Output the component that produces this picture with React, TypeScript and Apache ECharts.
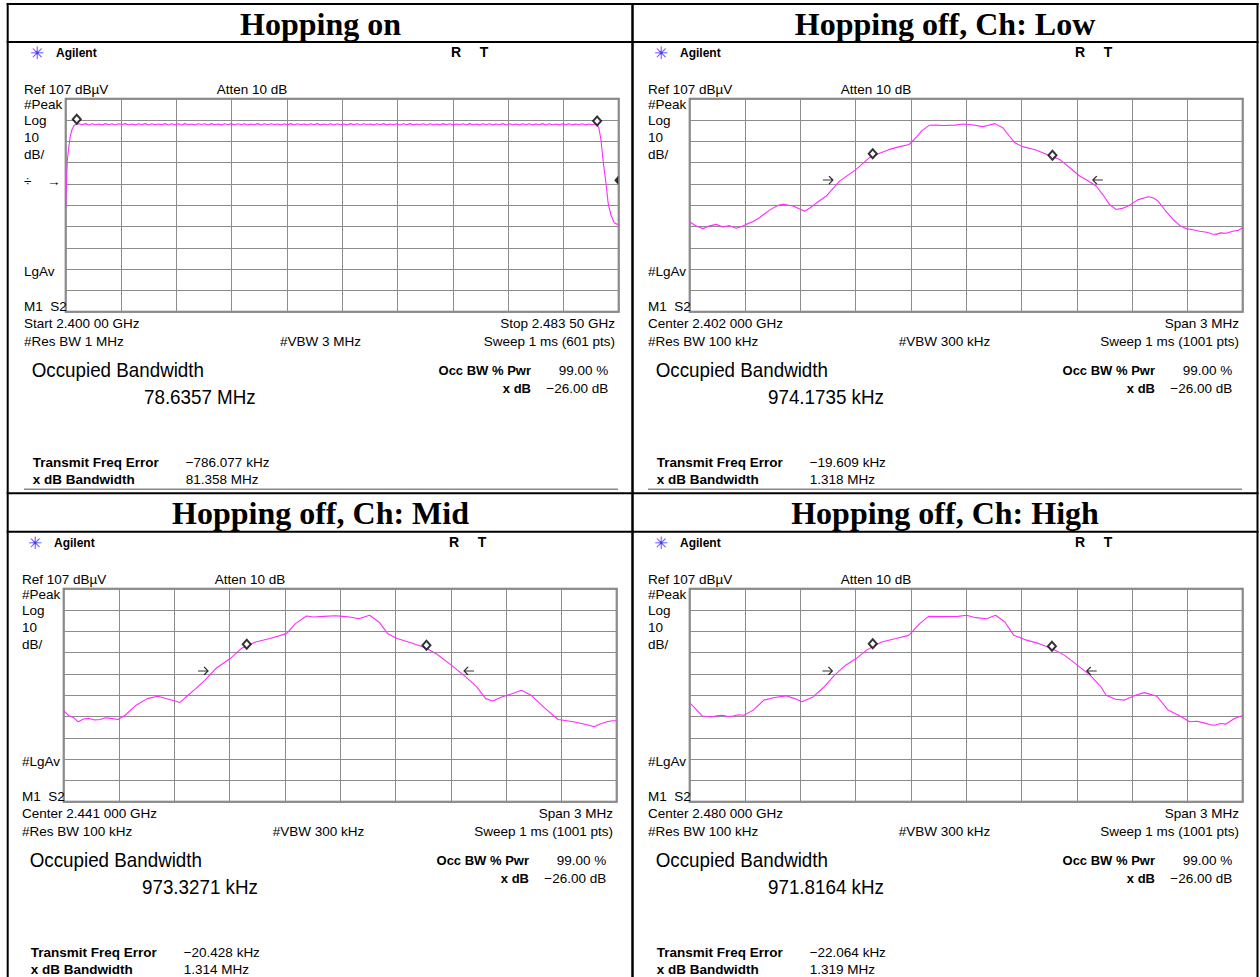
import React, { useEffect, useRef } from "react";
import * as echarts from "echarts";

// ---------- DATA ----------
const REF_LEVEL_DBUV = 107;
const PANEL_TITLES = ["Hopping on", "Hopping off, Ch: Low", "Hopping off, Ch: Mid", "Hopping off, Ch: High"];

// Hopping on (absolute frequency, MHz / level, dBµV)
const HOP_ON_START_MHZ = 2400.0;
const HOP_ON_STOP_MHZ = 2483.5;
const HOP_ON_EDGE_L_MHZ = [2400.0, 2400.13, 2400.25, 2400.42, 2400.67, 2400.92, 2401.25, 2401.67];
const HOP_ON_EDGE_L_DBUV = [55.7, 69.0, 78.2, 82.9, 89.0, 92.3, 94.4, 95.1];
const HOP_ON_FLAT_START_MHZ = 2402.0;
const HOP_ON_FLAT_STEP_MHZ = 0.5;
const HOP_ON_FLAT_DBUV = [
  95.2, 94.8, 95.3, 94.7, 95.2, 94.8, 95.1, 94.7, 95.3, 94.8, 95.2, 94.7, 95.2, 94.9, 95.3, 94.8,
  95.1, 94.7, 95.2, 94.8, 95.3, 94.7, 95.2, 94.8, 95.1, 94.8, 95.3, 94.7, 95.2, 94.8, 95.2, 94.7,
  95.3, 94.8, 95.1, 94.7, 95.2, 94.9, 95.2, 94.7, 95.3, 94.8, 95.1, 94.7, 95.2, 94.8, 95.3, 94.7,
  95.2, 94.8, 95.2, 94.7, 95.1, 94.8, 95.3, 94.7, 95.2, 94.8, 95.2, 94.9, 95.1, 94.7, 95.2, 94.8,
  95.3, 94.7, 95.2, 94.8, 95.1, 94.7, 95.2, 94.8, 95.3, 94.7, 95.1, 94.8, 95.2, 94.7, 95.2, 94.8,
  95.1, 94.7, 95.3, 94.8, 95.2, 94.7, 95.2, 94.9, 95.1, 94.7, 95.2, 94.8, 95.3, 94.7, 95.1, 94.8,
  95.2, 94.7, 95.2, 94.8, 95.3, 94.7, 95.1, 94.8, 95.2, 94.7, 95.2, 94.8, 95.1, 94.7, 95.3, 94.8,
  95.2, 94.7, 95.1, 94.8, 95.2, 94.7, 95.3, 94.8, 95.1, 94.7, 95.2, 94.8, 95.2, 94.7, 95.1, 94.8,
  95.3, 94.7, 95.2, 94.8, 95.1, 94.7, 95.2, 94.8, 95.2, 94.7, 95.1, 94.8, 95.3, 94.7, 95.2, 94.8,
  95.1, 94.7, 95.2, 94.8, 95.2, 94.7, 95.1, 94.8, 95.2, 94.7, 95.1, 94.8, 95.1,
];
const HOP_ON_EDGE_R_MHZ = [2480.16, 2480.49, 2480.83, 2481.16, 2481.58, 2481.91, 2482.33, 2482.83, 2483.5];
const HOP_ON_EDGE_R_DBUV = [95.1, 93.5, 87.6, 77.4, 67.3, 57.9, 52.4, 48.8, 47.7];
const HOP_ON_DIAMOND_MHZ = [2401.67, 2480.24];
const HOP_ON_DIAMOND_DBUV = [97.3, 96.5];
const HOP_ON_EDGE_MARK_DBUV = 68.7;

// Hopping off (offset from centre, kHz / level, dBµV)
const SPAN_KHZ = 3000;
const LOW_KHZ = [-1500, -1464, -1428, -1392, -1356, -1320, -1284, -1248, -1212, -1194, -1158, -1122, -1065, -1020, -993, -939, -876, -846, -813, -759, -687, -597, -525, -480, -417, -360, -309, -270, -240, -201, -165, -120, -60, -15, 30, 90, 120, 156, 198, 234, 264, 306, 375, 435, 507, 570, 615, 660, 705, 741, 777, 813, 846, 885, 930, 987, 1014, 1041, 1080, 1122, 1158, 1194, 1230, 1266, 1305, 1335, 1356, 1380, 1410, 1446, 1476, 1500];
const LOW_DBUV = [49.1, 47.2, 46.0, 47.3, 48.0, 46.8, 47.4, 46.2, 47.2, 48.0, 49.2, 51.1, 54.8, 57.0, 57.4, 56.6, 54.2, 55.8, 58.0, 61.3, 68.3, 73.8, 79.3, 81.0, 83.2, 84.5, 85.5, 89.0, 92.0, 94.5, 94.6, 94.4, 94.6, 95.1, 94.8, 93.9, 94.5, 95.3, 93.4, 89.5, 86.3, 84.5, 83.0, 80.9, 78.5, 74.0, 70.7, 68.5, 66.0, 62.0, 57.4, 55.0, 55.5, 56.9, 59.5, 61.0, 60.5, 58.9, 54.5, 50.3, 47.5, 46.0, 45.5, 44.8, 44.3, 43.5, 43.3, 44.0, 43.8, 44.8, 45.2, 46.4];
const MID_KHZ = [-1500, -1470, -1446, -1422, -1392, -1362, -1332, -1302, -1272, -1245, -1206, -1167, -1107, -1047, -990, -930, -870, -840, -783, -735, -675, -597, -537, -459, -381, -291, -243, -183, -144, -90, -27, 15, 51, 102, 159, 210, 258, 309, 387, 465, 525, 603, 681, 741, 789, 828, 876, 936, 984, 1035, 1113, 1182, 1230, 1266, 1308, 1344, 1377, 1410, 1446, 1476, 1500];
const MID_DBUV = [49.7, 47.2, 46.5, 44.5, 45.8, 46.1, 45.4, 45.6, 46.4, 46.1, 45.6, 47.6, 52.3, 55.4, 56.5, 55.1, 53.6, 55.9, 60.1, 64.0, 69.5, 74.2, 78.9, 82.0, 83.6, 85.9, 90.6, 94.2, 93.7, 94.0, 94.3, 94.0, 93.7, 92.9, 94.5, 91.4, 85.9, 83.6, 81.5, 79.2, 76.2, 71.1, 65.6, 60.9, 55.4, 54.3, 56.2, 57.8, 59.3, 57.0, 50.7, 45.6, 45.0, 44.5, 43.7, 43.0, 42.2, 43.5, 44.5, 45.0, 45.0];
const HIGH_KHZ = [-1500, -1470, -1431, -1407, -1383, -1353, -1323, -1293, -1263, -1236, -1206, -1155, -1098, -1038, -978, -930, -891, -831, -774, -714, -654, -597, -537, -459, -381, -312, -252, -204, -144, -45, 3, 51, 111, 159, 210, 258, 318, 396, 465, 534, 603, 672, 729, 759, 810, 858, 918, 966, 1035, 1095, 1152, 1212, 1251, 1290, 1320, 1347, 1380, 1407, 1455, 1500];
const HIGH_DBUV = [53.4, 50.8, 47.2, 47.0, 46.8, 47.3, 47.6, 47.0, 47.2, 47.8, 47.6, 50.0, 54.7, 55.9, 56.7, 55.4, 53.9, 56.2, 60.6, 66.4, 71.1, 74.2, 78.4, 82.0, 83.6, 85.1, 90.6, 94.0, 93.9, 94.0, 94.5, 93.4, 92.9, 94.5, 91.4, 85.1, 83.1, 81.2, 78.9, 75.7, 71.1, 66.4, 61.2, 57.0, 55.1, 54.7, 57.0, 58.2, 56.5, 50.0, 47.6, 44.5, 44.8, 44.0, 43.2, 42.9, 43.7, 43.4, 46.1, 47.5];

// markers: [low, mid, high]
const OFF_DIAMOND_KHZ = [[-507, 468], [-507, 468], [-507, 465]];
const OFF_DIAMOND_DBUV = [[81.2, 80.5], [80.9, 80.4], [81.2, 80.0]];
const OFF_ARROW_R_KHZ = [-750, -744, -753];
const OFF_ARROW_L_KHZ = [714, 699, 681];
const OFF_ARROW_DBUV = [68.8, 68.4, 68.4];

// screen texts per panel
const START_LABELS = ["Start 2.400 00 GHz", "Center 2.402 000 GHz", "Center 2.441 000 GHz", "Center 2.480 000 GHz"];
const STOP_LABELS = ["Stop 2.483 50 GHz", "Span 3 MHz", "Span 3 MHz", "Span 3 MHz"];
const RBW_LABELS = ["#Res BW 1 MHz", "#Res BW 100 kHz", "#Res BW 100 kHz", "#Res BW 100 kHz"];
const VBW_LABELS = ["#VBW 3 MHz", "#VBW 300 kHz", "#VBW 300 kHz", "#VBW 300 kHz"];
const SWEEP_LABELS = ["Sweep 1 ms (601 pts)", "Sweep 1 ms (1001 pts)", "Sweep 1 ms (1001 pts)", "Sweep 1 ms (1001 pts)"];
const AVG_LABELS = ["LgAv", "#LgAv", "#LgAv", "#LgAv"];
const OBW_VALUES = ["78.6357 MHz", "974.1735 kHz", "973.3271 kHz", "971.8164 kHz"];
const FREQ_ERRORS = ["\u2212786.077 kHz", "\u221219.609 kHz", "\u221220.428 kHz", "\u221222.064 kHz"];
const XDB_BANDWIDTHS = ["81.358 MHz", "1.318 MHz", "1.314 MHz", "1.319 MHz"];

// ---------- LAYOUT ----------
const PLOT = { left: 65.7, top: 98.7, width: 553, height: 213 };
const OFFSETS: [number, number][] = [[0, 0], [624, 0], [-2, 490], [624, 490]];
const SANS = '"Liberation Sans", Arial, sans-serif';
const SERIF = '"Liberation Serif", "Times New Roman", serif';
const TRACE = "#ff2bff";

function txt(x: number, y: number, text: string, size: number, o: any = {}) {
  const align = o.align || "left";
  return {
    type: "text",
    x,
    y,
    scaleX: o.scaleX || 1,
    silent: true,
    z: 10,
    style: {
      text,
      font: `${o.bold ? "bold " : ""}${size}px ${o.family || SANS}`,
      fill: o.color || "#000",
      textAlign: align,
      align,
      textVerticalAlign: "middle",
      verticalAlign: "middle",
    },
  };
}

function hline(x1: number, x2: number, y: number, w: number, c: string) {
  return { type: "line", silent: true, z: 20, shape: { x1, y1: y, x2, y2: y }, style: { stroke: c, lineWidth: w } };
}
function vline(x: number, y1: number, y2: number, w: number, c: string) {
  return { type: "line", silent: true, z: 20, shape: { x1: x, y1, x2: x, y2 }, style: { stroke: c, lineWidth: w } };
}

function zip(xs: number[], ys: number[]) {
  const n = Math.min(xs.length, ys.length);
  const out: number[][] = [];
  for (let i = 0; i < n; i++) out.push([xs[i], ys[i] - REF_LEVEL_DBUV]);
  return out;
}

function buildOption() {
  const graphic: any[] = [];
  // table
  graphic.push(hline(6.7, 1258.5, 4, 2, "#000"));
  graphic.push(hline(6.7, 1258.5, 42, 2, "#000"));
  graphic.push(hline(6.7, 1258.5, 493.3, 2, "#000"));
  graphic.push(hline(6.7, 1258.5, 531.7, 2, "#000"));
  graphic.push(vline(7.7, 3, 977, 2, "#000"));
  graphic.push(vline(632.5, 3, 977, 2.5, "#000"));
  graphic.push(vline(1257.5, 3, 977, 2, "#000"));
  const titleCenters = [[320.5, 24], [945, 24], [320.5, 513.3], [945, 513.3]];
  PANEL_TITLES.forEach((t, i) => {
    graphic.push(txt(titleCenters[i][0], titleCenters[i][1], t, 32, { bold: true, family: SERIF, align: "center" }));
  });

  OFFSETS.forEach(([dx, dy], i) => {
    const X = (v: number) => v + dx;
    const Y = (v: number) => v + dy;
    graphic.push(txt(X(37), Y(53), "\u2733", 17, { align: "center", color: "#3a3aff", family: '"DejaVu Sans", sans-serif' }));
    graphic.push(txt(X(56), Y(53), "Agilent", 12, { bold: true }));
    graphic.push(txt(X(456), Y(52), "R", 14, { bold: true, align: "center" }));
    graphic.push(txt(X(484), Y(52), "T", 14, { bold: true, align: "center" }));
    graphic.push(txt(X(24), Y(89.3), "Ref 107 dB\u00b5V", 13.5));
    graphic.push(txt(X(216.7), Y(89.3), "Atten 10 dB", 13.5));
    graphic.push(txt(X(24), Y(104.3), "#Peak", 13.5));
    graphic.push(txt(X(24), Y(120.7), "Log", 13.5));
    graphic.push(txt(X(24), Y(137.3), "10", 13.5));
    graphic.push(txt(X(24), Y(154.3), "dB/", 13.5));
    graphic.push(txt(X(24), Y(271.7), AVG_LABELS[i], 13.5));
    graphic.push(txt(X(24), Y(306), "M1  S2", 13.5));
    graphic.push(txt(X(24), Y(323.3), START_LABELS[i], 13.5));
    graphic.push(txt(X(615), Y(323.3), STOP_LABELS[i], 13.5, { align: "right" }));
    graphic.push(txt(X(24), Y(341.7), RBW_LABELS[i], 13.5));
    graphic.push(txt(X(320.5), Y(341.7), VBW_LABELS[i], 13.5, { align: "center" }));
    graphic.push(txt(X(615), Y(341.7), SWEEP_LABELS[i], 13.5, { align: "right" }));
    graphic.push(txt(X(31.7), Y(370), "Occupied Bandwidth", 20, { scaleX: 0.94 }));
    graphic.push(txt(X(144), Y(396.7), OBW_VALUES[i], 20, { scaleX: 0.94 }));
    graphic.push(txt(X(531), Y(370.7), "Occ BW % Pwr", 13, { bold: true, align: "right" }));
    graphic.push(txt(X(608.3), Y(370.7), "99.00 %", 13.5, { align: "right" }));
    graphic.push(txt(X(531), Y(388.3), "x dB", 13, { bold: true, align: "right" }));
    graphic.push(txt(X(608.3), Y(388.3), "\u221226.00 dB", 13.5, { align: "right" }));
    graphic.push(txt(X(32.7), Y(462.7), "Transmit Freq Error", 13.5, { bold: true }));
    graphic.push(txt(X(185.7), Y(462.7), FREQ_ERRORS[i], 13.5));
    graphic.push(txt(X(32.7), Y(479.3), "x dB Bandwidth", 13.5, { bold: true }));
    graphic.push(txt(X(185.7), Y(479.3), XDB_BANDWIDTHS[i], 13.5));
    graphic.push(hline(X(24), X(618), Y(489.3), 1.5, "#8a8a8a"));
    if (i === 0) {
      graphic.push(txt(X(24), Y(181), "\u00f7", 13.5));
      graphic.push(txt(X(47), Y(181), "\u2192", 13.5));
    }
  });

  const grid = OFFSETS.map(([dx, dy]) => ({
    left: PLOT.left + dx,
    top: PLOT.top + dy,
    width: PLOT.width,
    height: PLOT.height,
    show: true,
    borderColor: "#6e6e6e",
    borderWidth: 2,
    backgroundColor: "#fff",
  }));

  const hopOnSpanKhz = (HOP_ON_STOP_MHZ - HOP_ON_START_MHZ) * 1000;
  const xAxis = OFFSETS.map((_, i) => ({
    gridIndex: i,
    type: "value",
    min: i === 0 ? 0 : -SPAN_KHZ / 2,
    max: i === 0 ? hopOnSpanKhz : SPAN_KHZ / 2,
    interval: i === 0 ? hopOnSpanKhz / 10 : SPAN_KHZ / 10,
    axisLabel: { show: false },
    axisTick: { show: false },
    axisLine: { show: false },
    splitLine: { show: true, lineStyle: { color: "#8c8c8c", width: 1 } },
  }));
  const yAxis = OFFSETS.map((_, i) => ({
    gridIndex: i,
    type: "value",
    min: -100,
    max: 0,
    interval: 10,
    axisLabel: { show: false },
    axisTick: { show: false },
    axisLine: { show: false },
    splitLine: { show: true, lineStyle: { color: "#8c8c8c", width: 1 } },
  }));

  const toOff = (mhz: number) => (mhz - HOP_ON_START_MHZ) * 1000;
  const hopOnData: number[][] = [];
  HOP_ON_EDGE_L_MHZ.forEach((f, k) => hopOnData.push([toOff(f), HOP_ON_EDGE_L_DBUV[k] - REF_LEVEL_DBUV]));
  HOP_ON_FLAT_DBUV.forEach((v, k) =>
    hopOnData.push([toOff(HOP_ON_FLAT_START_MHZ + k * HOP_ON_FLAT_STEP_MHZ), v - REF_LEVEL_DBUV])
  );
  HOP_ON_EDGE_R_MHZ.forEach((f, k) => hopOnData.push([toOff(f), HOP_ON_EDGE_R_DBUV[k] - REF_LEVEL_DBUV]));

  const traces = [hopOnData, zip(LOW_KHZ, LOW_DBUV), zip(MID_KHZ, MID_DBUV), zip(HIGH_KHZ, HIGH_DBUV)];

  const series: any[] = [];
  traces.forEach((d, i) => {
    series.push({
      type: "line",
      xAxisIndex: i,
      yAxisIndex: i,
      data: d,
      showSymbol: false,
      symbol: "none",
      lineStyle: { color: TRACE, width: 1.1 },
      z: 3,
      silent: true,
    });
  });

  const diamondStyle = { color: "#fff", borderColor: "#000", borderWidth: 2 };
  // hopping on markers
  series.push({
    type: "scatter",
    xAxisIndex: 0,
    yAxisIndex: 0,
    symbol: "diamond",
    symbolSize: [8, 9],
    itemStyle: diamondStyle,
    z: 5,
    silent: true,
    data: HOP_ON_DIAMOND_MHZ.map((f, k) => [toOff(f), HOP_ON_DIAMOND_DBUV[k] - REF_LEVEL_DBUV]),
  });
  series.push({
    type: "scatter",
    xAxisIndex: 0,
    yAxisIndex: 0,
    symbol: "path://M10,0L0,10L10,20Z",
    symbolSize: [4, 9],
    symbolOffset: [-2.5, 0],
    itemStyle: { color: "#000" },
    z: 5,
    silent: true,
    data: [[hopOnSpanKhz, HOP_ON_EDGE_MARK_DBUV - REF_LEVEL_DBUV]],
  });
  for (let p = 0; p < 3; p++) {
    const gi = p + 1;
    series.push({
      type: "scatter",
      xAxisIndex: gi,
      yAxisIndex: gi,
      symbol: "diamond",
      symbolSize: [8, 9],
      itemStyle: diamondStyle,
      z: 5,
      silent: true,
      data: OFF_DIAMOND_KHZ[p].map((f, k) => [f, OFF_DIAMOND_DBUV[p][k] - REF_LEVEL_DBUV]),
    });
    series.push({
      type: "scatter",
      xAxisIndex: gi,
      yAxisIndex: gi,
      symbol: "path://M0,4L10,4M6,0L10,4L6,8",
      symbolSize: [10, 8],
      itemStyle: { color: "rgba(0,0,0,0)", borderColor: "#000", borderWidth: 1.2 },
      z: 5,
      silent: true,
      data: [[OFF_ARROW_R_KHZ[p], OFF_ARROW_DBUV[p] - REF_LEVEL_DBUV]],
    });
    series.push({
      type: "scatter",
      xAxisIndex: gi,
      yAxisIndex: gi,
      symbol: "path://M10,4L0,4M4,0L0,4L4,8",
      symbolSize: [10, 8],
      itemStyle: { color: "rgba(0,0,0,0)", borderColor: "#000", borderWidth: 1.2 },
      z: 5,
      silent: true,
      data: [[OFF_ARROW_L_KHZ[p], OFF_ARROW_DBUV[p] - REF_LEVEL_DBUV]],
    });
  }

  return {
    animation: false,
    backgroundColor: "#fff",
    grid,
    xAxis,
    yAxis,
    series,
    graphic: { elements: graphic },
  };
}

export default function App() {
  const ref = useRef<HTMLDivElement>(null);
  useEffect(() => {
    if (!ref.current) return;
    const chart = echarts.init(ref.current, null, { renderer: "svg" });
    chart.setOption(buildOption() as any);
    return () => chart.dispose();
  }, []);
  return <div ref={ref} style={{ position: "absolute", left: 0, top: 0, width: 1260, height: 977 }} />;
}
